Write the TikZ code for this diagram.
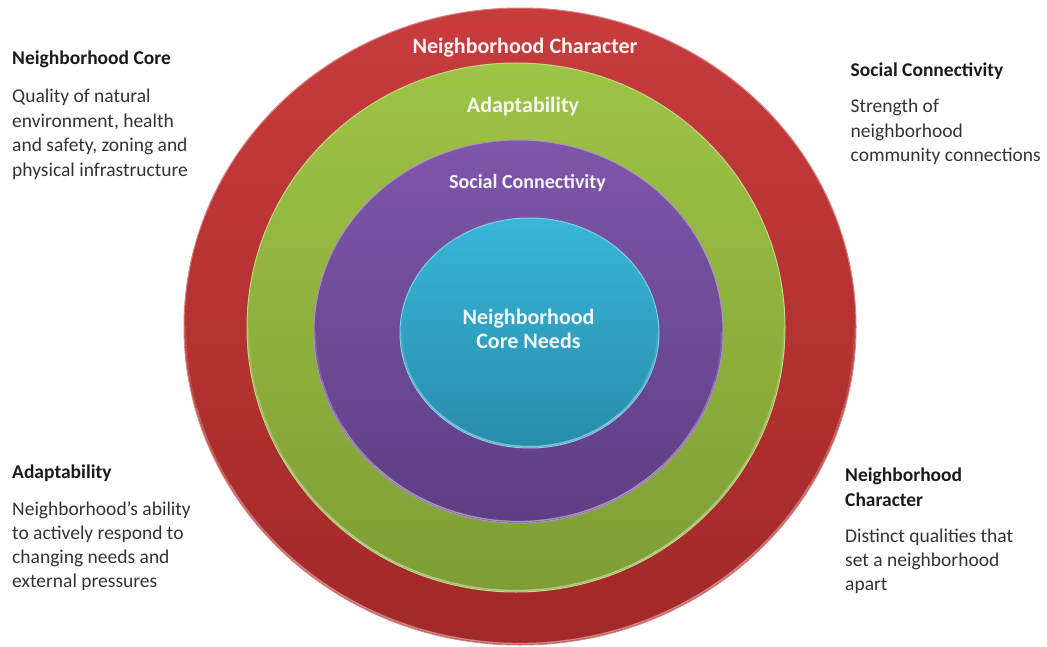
\documentclass[tikz,border=0pt]{standalone}
\usepackage{fontspec}
\setmainfont{Carlito}
\usetikzlibrary{shapes.geometric}
\definecolor{redT}{HTML}{C83C3C}
\definecolor{redB}{HTML}{A22828}
\definecolor{grnT}{HTML}{9EC446}
\definecolor{grnB}{HTML}{7E9E34}
\definecolor{purT}{HTML}{7E56AA}
\definecolor{purB}{HTML}{5E3E84}
\definecolor{tealT}{HTML}{38B6D8}
\definecolor{tealB}{HTML}{288CAB}
\definecolor{headc}{HTML}{1A1A1A}
\definecolor{bodyc}{HTML}{333333}
\tikzset{
  ring/.style={ellipse, inner sep=0pt, line width=1pt},
  rim/.style={white, opacity=0.14, line width=1.3pt},
  ringlabel/.style={anchor=base, inner sep=0pt, text=white!96!black, font=\bfseries\fontsize{22}{24}\selectfont},
  head/.style={anchor=base west, inner sep=0pt, text=headc, font=\bfseries\fontsize{19.5}{24}\selectfont},
  body/.style={anchor=base west, inner sep=0pt, text=bodyc, font=\fontsize{19.5}{24}\selectfont},
}
\begin{document}
\begin{tikzpicture}[x=1pt, y=-1pt]
\useasboundingbox (0,0) rectangle (1047,647);
% rings
\node[ring, minimum width=672pt, minimum height=637pt, top color=redT, bottom color=redB, draw=white!35!redT] (red) at (520,326.5) {};
\node[ring, minimum width=538pt, minimum height=529pt, top color=grnT, bottom color=grnB, draw=white!35!grnT] (green) at (516,327.5) {};
\node[ring, minimum width=409pt, minimum height=383pt, top color=purT, bottom color=purB, draw=white!35!purT] (purple) at (518.5,331.5) {};
\node[ring, minimum width=259pt, minimum height=230pt, top color=tealT, bottom color=tealB, draw=white!35!tealT] (teal) at (529.5,333) {};
% light rims along the lower edges, fading towards the sides
\foreach \n/\rx/\ry in {red/334.5/317, green/267.5/263, purple/203/190, teal/128/113.5} {
  \foreach \a in {180,165,150,135} {
    \draw[rim] (\n.center) ++({\a}:{\rx} and {\ry}) arc[start angle=\a, end angle=180-\a, x radius=\rx, y radius=\ry];
  }
}
% ring labels
\node[ringlabel] (lred) at (525,54) {Neighborhood Character};
\node[ringlabel] (lgreen) at (523,113) {Adaptability};
\node[ringlabel, font=\bfseries\fontsize{20}{24}\selectfont] (lpurple) at (527.5,189) {Social Connectivity};
\node[ringlabel] (lteal1) at (528.5,324) {Neighborhood};
\node[ringlabel] (lteal2) at (528.5,348) {Core Needs};
% top-left
\node[head] (h1) at (12,65) {Neighborhood Core};
\node[body] (b11) at (12,103) {Quality of natural};
\node[body] (b12) at (12,127.5) {environment, health};
\node[body] (b13) at (12,152) {and safety, zoning and};
\node[body] (b14) at (12,176.5) {physical infrastructure};
% top-right
\node[head] (h2) at (850.5,77) {Social Connectivity};
\node[body] (b21) at (850.5,113) {Strength of};
\node[body] (b22) at (850.5,137.5) {neighborhood};
\node[body] (b23) at (850.5,162) {community connections};
% bottom-left
\node[head] (h3) at (12,478) {Adaptability};
\node[body] (b31) at (12,515) {Neighborhood’s ability};
\node[body] (b32) at (12,539) {to actively respond to};
\node[body] (b33) at (12,563) {changing needs and};
\node[body] (b34) at (12,587) {external pressures};
% bottom-right
\node[head] (h4a) at (845,481) {Neighborhood};
\node[head] (h4b) at (845,506) {Character};
\node[body] (b41) at (845,542) {Distinct qualities that};
\node[body] (b42) at (845,566) {set a neighborhood};
\node[body] (b43) at (845,590) {apart};
\end{tikzpicture}
\end{document}
